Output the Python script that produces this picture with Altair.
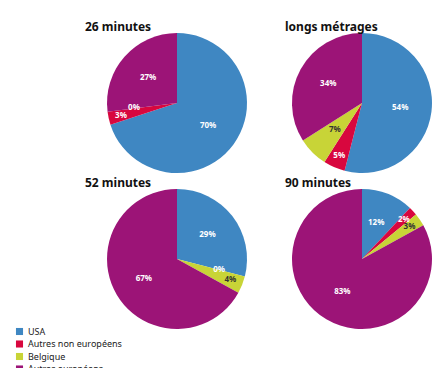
import altair as alt
import pandas as pd

panels = ["26 minutes", "longs métrages", "52 minutes", "90 minutes"]
categories = ["USA", "Autres non européens", "Belgique", "Autres européens"]
colors = ["#3f87c2", "#d8073e", "#c8d437", "#9c1477"]
v26 = [70, 3, 0, 27]
vlongs = [54, 5, 7, 34]
v52 = [29, 0, 4, 67]
v90 = [12, 2, 3, 83]
values = [v26, vlongs, v52, v90]

rows = []
for p, vals in zip(panels, values):
    for i, (c, v) in enumerate(zip(categories, vals)):
        rows.append({"panel": p, "cat": c, "order": i, "value": v, "label": f"{v}%"})
df = pd.DataFrame(rows)

R = 70
W, H = 150, 140

color_enc = alt.Color(
    "cat:N",
    scale=alt.Scale(domain=categories, range=colors),
    legend=alt.Legend(
        title=None,
        orient="none",
        legendX=-87,
        legendY=294,
        symbolType="square",
        symbolSize=50,
        symbolStrokeWidth=0,
        symbolOpacity=1,
        labelFont="Noto Sans",
        labelFontSize=9,
        labelColor="#222",
        rowPadding=2.5,
        padding=0,
    ),
)


def pie(name, dx):
    src = alt.Chart(df).transform_filter(alt.datum.panel == name)
    arcs = src.mark_arc(outerRadius=R).encode(
        theta=alt.Theta("value:Q", stack=True, scale=alt.Scale(domain=[0, 100])),
        order=alt.Order("order:Q", sort="ascending"),
        color=color_enc,
    )
    lab = src.transform_window(
        cum="sum(value)", sort=[alt.SortField("order", order="ascending")]
    ).transform_calculate(mid="datum.cum - datum.value / 2")

    def text_layer(cond, radius):
        return lab.transform_filter(cond).mark_text(
            font="Noto Sans", fontSize=8, fontWeight="bold", radius=radius
        ).encode(
            theta=alt.Theta("mid:Q", stack=None, scale=alt.Scale(domain=[0, 100])),
            text="label:N",
            color=alt.condition(
                "datum.cat == 'Belgique' && datum.value > 0",
                alt.value("#333333"),
                alt.value("white"),
            ),
        )

    t_zero = text_layer("datum.value == 0", R * 0.62)
    t_small = text_layer("datum.value > 0 && datum.value < 6", R * 0.82)
    t_big = text_layer("datum.value >= 6", R * 0.55)
    return alt.layer(arcs, t_big, t_small, t_zero).properties(
        width=W,
        height=H,
        title=alt.TitleParams(
            name, anchor="start", font="Noto Sans", fontSize=12, fontWeight="bold",
            color="#111", offset=-1, dx=dx,
        ),
    )


chart = alt.concat(
    pie("26 minutes", -17),
    pie("longs métrages", -2),
    pie("52 minutes", -17),
    pie("90 minutes", -2),
    columns=2,
    spacing={"row": 4, "column": 33},
).properties(
    padding={"left": 15, "top": 21, "right": 0, "bottom": 0},
    background="white",
).configure_view(stroke=None)

chart.save("out.html", embed_options={"renderer": "svg", "actions": False})
